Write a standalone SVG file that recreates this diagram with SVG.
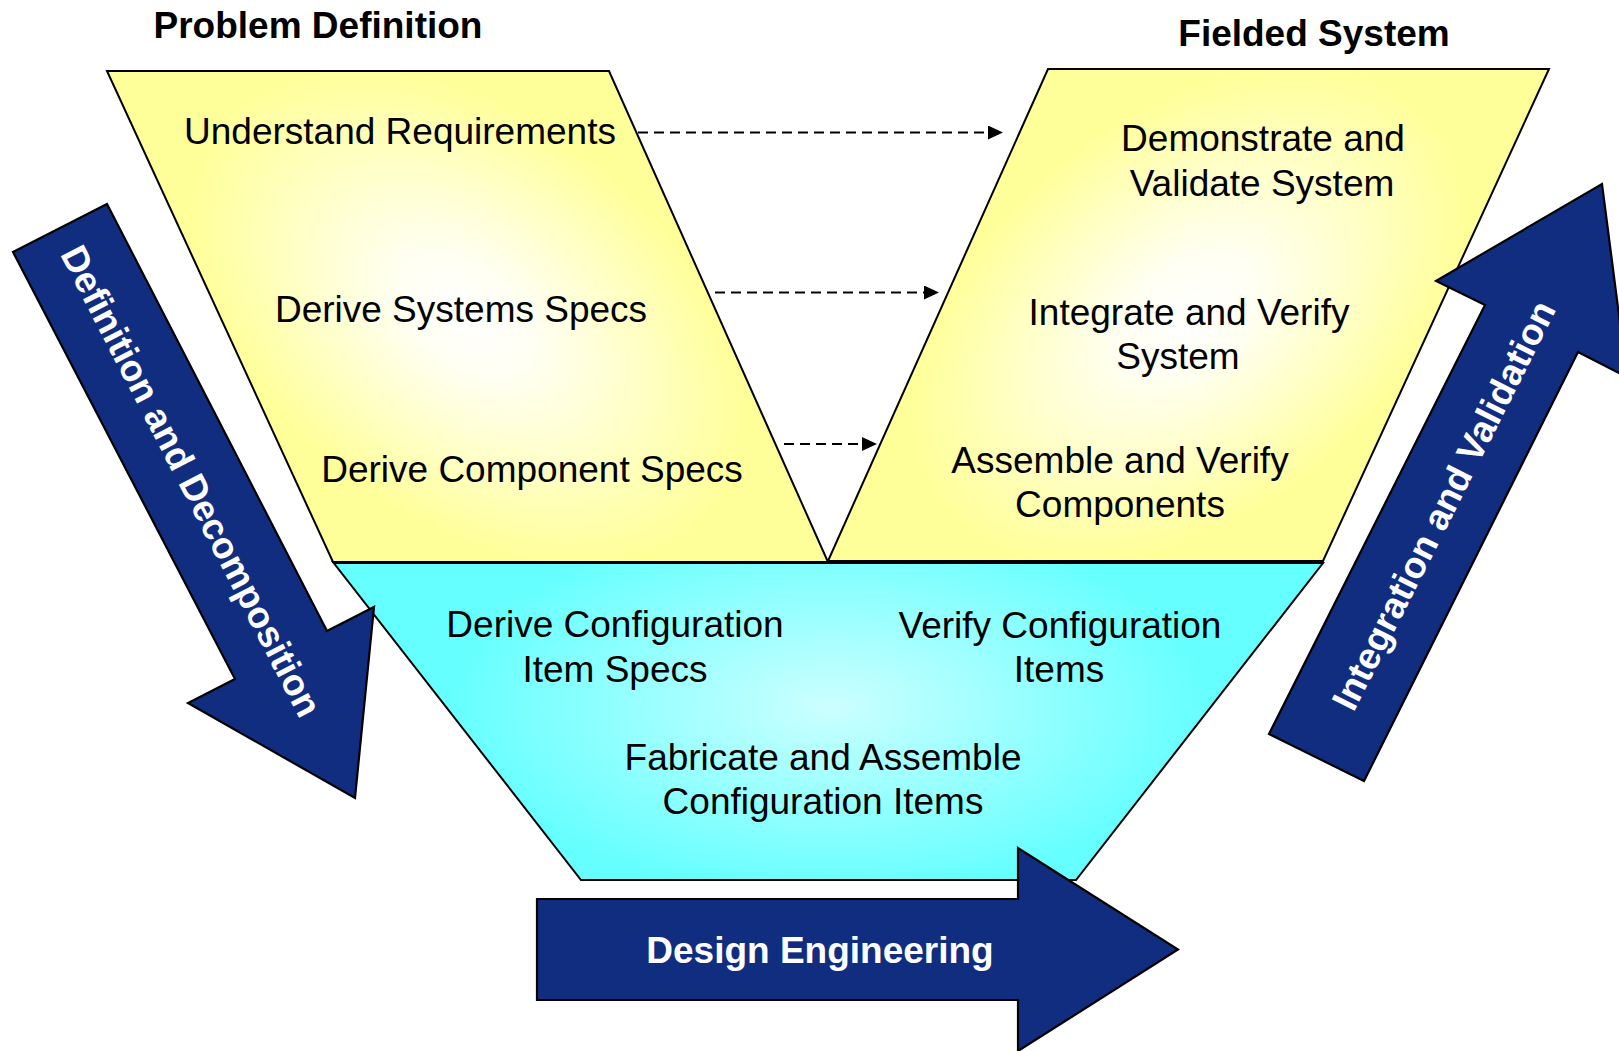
<svg xmlns="http://www.w3.org/2000/svg" width="1619" height="1051" viewBox="0 0 1619 1051">
  <style>
    .shape { stroke: #000; stroke-width: 2; stroke-linejoin: miter; }
    .band { fill: #112D80; stroke: #000; stroke-width: 2.2; stroke-linejoin: miter; }
    .lbl { font-family: "Liberation Sans", Arial, sans-serif; font-size: 37px; fill: #000; text-anchor: middle; }
    .title { font-family: "Liberation Sans", Arial, sans-serif; font-size: 37px; font-weight: bold; fill: #000; text-anchor: middle; }
    .band-lbl { font-family: "Liberation Sans", Arial, sans-serif; font-size: 37px; font-weight: bold; fill: #fff; text-anchor: middle; }
    .link { fill: none; stroke: #000; stroke-width: 2.2; stroke-dasharray: 10 6; }
  </style>
  <defs>
    <radialGradient id="yellowL" gradientUnits="userSpaceOnUse" cx="0" cy="0" r="1" gradientTransform="translate(467 316) skewX(24.5) scale(255 250)">
      <stop offset="0" stop-color="#FFFFFF"/>
      <stop offset="0.25" stop-color="#FFFFF2"/>
      <stop offset="1" stop-color="#FFFF99"/>
    </radialGradient>
    <radialGradient id="yellowR" gradientUnits="userSpaceOnUse" cx="0" cy="0" r="1" gradientTransform="translate(1188 315) skewX(-24.5) scale(255 250)">
      <stop offset="0" stop-color="#FFFFFF"/>
      <stop offset="0.25" stop-color="#FFFFF2"/>
      <stop offset="1" stop-color="#FFFF99"/>
    </radialGradient>
    <radialGradient id="cyanFill" gradientUnits="userSpaceOnUse" cx="0" cy="0" r="1" gradientTransform="translate(830 705) scale(380 190)">
      <stop offset="0" stop-color="#CCFFFF"/>
      <stop offset="1" stop-color="#66FFFF"/>
    </radialGradient>
    <marker id="head" markerUnits="userSpaceOnUse" markerWidth="16" markerHeight="14" refX="15" refY="7" orient="auto">
      <path d="M0,0 L15,7 L0,14 Z" fill="#000"/>
    </marker>
  </defs>

  <rect width="1619" height="1051" fill="#fff"/>

  <!-- headings -->
  <text class="title" x="318" y="38">Problem Definition</text>
  <text class="title" x="1314" y="46">Fielded System</text>

  <!-- bottom of the V: configuration items -->
  <g id="config-items">
    <polygon class="shape" fill="url(#cyanFill)" points="333,562 1323,563 1076,880 581,880"/>
    <text class="lbl" x="615" y="637">Derive Configuration</text>
    <text class="lbl" x="615" y="682">Item Specs</text>
    <text class="lbl" x="1060" y="638">Verify Configuration</text>
    <text class="lbl" x="1059" y="682">Items</text>
    <text class="lbl" x="823" y="770">Fabricate and Assemble</text>
    <text class="lbl" x="823" y="814">Configuration Items</text>
  </g>

  <!-- left leg: definition steps -->
  <g id="definition">
    <polygon class="shape" fill="url(#yellowL)" points="107,71 609,71 828,562 333,562"/>
    <text class="lbl" x="400" y="144">Understand Requirements</text>
    <text class="lbl" x="461" y="322">Derive Systems Specs</text>
    <text class="lbl" x="532" y="482">Derive Component Specs</text>
  </g>

  <!-- right leg: verification steps -->
  <g id="verification">
    <polygon class="shape" fill="url(#yellowR)" points="1048,69 1549,69 1323,561 828,561"/>
    <text class="lbl" x="1263" y="151">Demonstrate and</text>
    <text class="lbl" x="1262" y="196">Validate System</text>
    <text class="lbl" x="1189" y="325">Integrate and Verify</text>
    <text class="lbl" x="1178" y="369">System</text>
    <text class="lbl" x="1120" y="473">Assemble and Verify</text>
    <text class="lbl" x="1120" y="517">Components</text>
  </g>

  <!-- shared edge between the legs and the bottom section -->
  <line x1="333" y1="562.5" x2="1323" y2="562.5" stroke="#000" stroke-width="3"/>

  <!-- process direction bands -->
  <g id="decomposition-arrow">
    <polygon class="band" points="13,252 107,204 327,631 374,607 355,798 188,703 235,679"/>
    <text class="band-lbl" transform="translate(180 487) rotate(62.7)" x="0" y="0">Definition and Decomposition</text>
  </g>

  <g id="integration-arrow">
    <polygon class="band" points="1269,734 1485,305 1436,281 1602,184 1627,377 1578,352 1364,781"/>
    <text class="band-lbl" transform="translate(1455 511) rotate(-63.3)" x="0" y="0">Integration and Validation</text>
  </g>

  <g id="design-arrow">
    <polygon class="band" points="537,899 1018,899 1018,848 1178,949.5 1018,1051 1018,1000 537,1000"/>
    <text class="band-lbl" x="820" y="963">Design Engineering</text>
  </g>

  <!-- traceability links between the legs -->
  <g id="connectors">
    <line class="link" x1="638" y1="132.5" x2="1003" y2="132.5" marker-end="url(#head)"/>
    <line class="link" x1="715" y1="292.5" x2="939" y2="292.5" marker-end="url(#head)"/>
    <line class="link" x1="784" y1="444" x2="877" y2="444" marker-end="url(#head)"/>
  </g>
</svg>
